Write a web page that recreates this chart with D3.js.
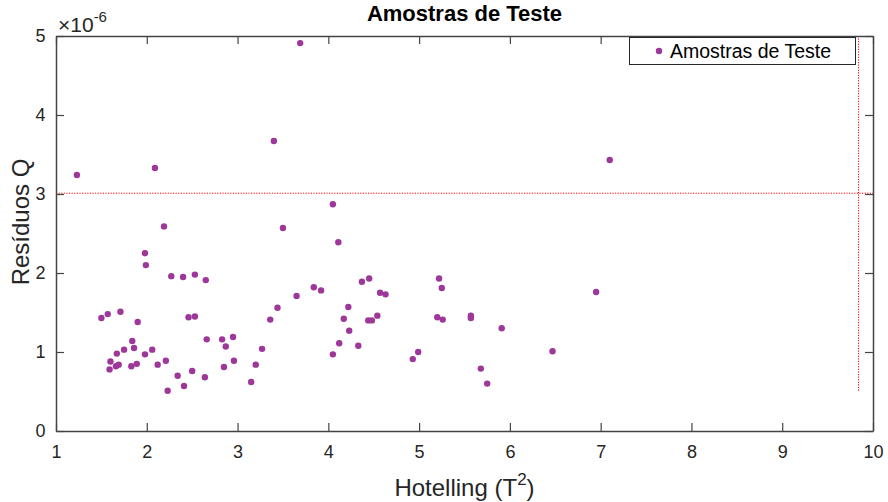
<!DOCTYPE html>
<html>
<head>
<meta charset="utf-8">
<script src="https://cdn.jsdelivr.net/npm/d3@7"></script>
<style>
  body { margin: 0; background: #fff; }
  svg { display: block; font-family: "Liberation Sans", Arial, sans-serif; }
</style>
</head>
<body>
<div id="chart"></div>
<script>
// Hotelling T2 vs Q residuals for the test samples (Q in units of 1e-6)
const t2Values = [
  1.23, 2.09, 3.40, 3.69, 7.10, 4.05, 2.19, 3.50, 4.11, 1.98,
  1.99, 2.27, 2.40, 2.53, 2.65, 1.50, 1.57, 1.71, 1.90, 2.46,
  2.53, 3.44, 3.36, 3.27, 3.20, 3.15, 2.66, 2.83, 2.95, 2.87,
  2.85, 2.96, 2.64, 2.50, 2.34, 2.41, 2.23, 2.21, 2.12, 2.06,
  1.98, 1.84, 1.86, 1.75, 1.67, 1.60, 1.59, 1.66, 1.69, 1.83,
  1.89, 3.65, 3.84, 3.92, 4.22, 4.17, 4.23, 4.12, 4.05, 4.33,
  4.37, 4.45, 4.57, 4.63, 4.44, 4.48, 4.54, 4.93, 4.99, 5.22,
  5.25, 5.20, 5.26, 5.57, 5.57, 5.91, 5.68, 5.75, 6.47, 6.95
];
const qValues = [
  3.24, 3.33, 3.67, 4.91, 3.43, 2.87, 2.59, 2.57, 2.39, 2.25,
  2.10, 1.96, 1.95, 1.98, 1.91, 1.43, 1.48, 1.51, 1.38, 1.44,
  1.45, 1.56, 1.41, 1.04, 0.84, 0.62, 1.16, 1.16, 1.19, 1.07,
  0.81, 0.89, 0.68, 0.76, 0.70, 0.57, 0.51, 0.89, 0.84, 1.03,
  0.97, 1.14, 1.05, 1.03, 0.98, 0.88, 0.78, 0.82, 0.84, 0.82,
  0.85, 1.71, 1.82, 1.78, 1.57, 1.42, 1.27, 1.11, 0.97, 1.08,
  1.89, 1.93, 1.75, 1.73, 1.40, 1.40, 1.46, 0.91, 1.00, 1.93,
  1.81, 1.44, 1.41, 1.46, 1.43, 1.30, 0.79, 0.60, 1.01, 1.76
];
// control limits
const qLimit = 3.01;
const t2Limit = 9.84;
const t2LimitStart = 0.51;

const xTicks = [1, 2, 3, 4, 5, 6, 7, 8, 9, 10];
const yTicks = [0, 1, 2, 3, 4, 5];

const W = 888, H = 502;
const m = { top: 36, right: 15, bottom: 71, left: 56 };
const innerW = W - m.left - m.right;
const innerH = H - m.top - m.bottom;
const axisColor = '#444';
const textColor = '#262626';
const dotColor = '#9d379a';

const svg = d3.select('#chart').append('svg').attr('width', W).attr('height', H);
const g = svg.append('g').attr('transform', `translate(${m.left},${m.top})`);

const x = d3.scaleLinear().domain([1, 10]).range([0, innerW]);
const y = d3.scaleLinear().domain([0, 5]).range([innerH, 0]);

const points = t2Values.map((t, i) => ({ t2: t, q: qValues[i] }));

// limit lines
g.append('line')
  .attr('x1', x(1)).attr('x2', x(10))
  .attr('y1', y(qLimit)).attr('y2', y(qLimit))
  .attr('stroke', '#ff0000').attr('stroke-width', 1).attr('stroke-dasharray', '1.2,1.4');
g.append('line')
  .attr('x1', x(t2Limit)).attr('x2', x(t2Limit))
  .attr('y1', y(t2LimitStart)).attr('y2', y(5))
  .attr('stroke', '#ff0000').attr('stroke-width', 1).attr('stroke-dasharray', '1.2,1.4');

g.selectAll('circle.pt')
  .data(points)
  .enter()
  .append('circle')
  .attr('class', 'pt')
  .attr('cx', d => x(d.t2))
  .attr('cy', d => y(d.q))
  .attr('r', 3.2)
  .attr('fill', dotColor);

// axes, ticks pointing inwards like MATLAB, box on
const tickLen = 8;
const bottomAxis = g.append('g').attr('transform', `translate(0,${innerH})`)
  .call(d3.axisBottom(x).tickValues(xTicks).tickSizeInner(-tickLen).tickSizeOuter(0).tickPadding(14));
const leftAxis = g.append('g')
  .call(d3.axisLeft(y).tickValues(yTicks).tickSizeInner(-tickLen).tickSizeOuter(0).tickPadding(14).tickFormat(d3.format('d')));
const topAxis = g.append('g')
  .call(d3.axisTop(x).tickValues(xTicks).tickSizeInner(-tickLen).tickSizeOuter(0).tickFormat(''));
const rightAxis = g.append('g').attr('transform', `translate(${innerW},0)`)
  .call(d3.axisRight(y).tickValues(yTicks).tickSizeInner(-tickLen).tickSizeOuter(0).tickFormat(''));

[bottomAxis, leftAxis, topAxis, rightAxis].forEach(a => {
  a.select('.domain').attr('stroke', axisColor).attr('stroke-width', 1.5);
  a.selectAll('.tick line').attr('stroke', axisColor).attr('stroke-width', 1.2);
  a.selectAll('.tick text').attr('fill', textColor).style('font-size', '18px');
});
leftAxis.selectAll('.tick text').attr('dx', '0.2em');

// exponent marker
const expo = svg.append('text')
  .attr('x', m.left + 2).attr('y', 32)
  .attr('fill', textColor).style('font-size', '21px');
expo.append('tspan').text('×10');
expo.append('tspan').attr('dy', -10).style('font-size', '15px').text('-6');

// title and labels
svg.append('text')
  .attr('x', m.left + innerW / 2).attr('y', 21)
  .attr('text-anchor', 'middle').attr('fill', '#000')
  .style('font-size', '22px').style('font-weight', 'bold')
  .text('Amostras de Teste');

const xl = svg.append('text')
  .attr('x', m.left + innerW / 2).attr('y', 496)
  .attr('text-anchor', 'middle').attr('fill', textColor)
  .style('font-size', '24px');
xl.append('tspan').text('Hotelling (T');
xl.append('tspan').attr('dy', -11).style('font-size', '17px').text('2');
xl.append('tspan').attr('dy', 11).text(')');

svg.append('text')
  .attr('transform', `translate(29,${222}) rotate(-90)`)
  .attr('text-anchor', 'middle').attr('fill', textColor)
  .style('font-size', '24px')
  .text('Resíduos Q');

// legend
const lg = svg.append('g');
lg.append('rect')
  .attr('x', 629.5).attr('y', 37.5).attr('width', 226).attr('height', 27)
  .attr('fill', '#fff').attr('stroke', '#262626').attr('stroke-width', 1);
lg.append('circle').attr('cx', 659).attr('cy', 51).attr('r', 3.2).attr('fill', dotColor);
lg.append('text')
  .attr('x', 670).attr('y', 58)
  .attr('fill', '#000').style('font-size', '19.5px')
  .text('Amostras de Teste');
</script>
</body>
</html>
